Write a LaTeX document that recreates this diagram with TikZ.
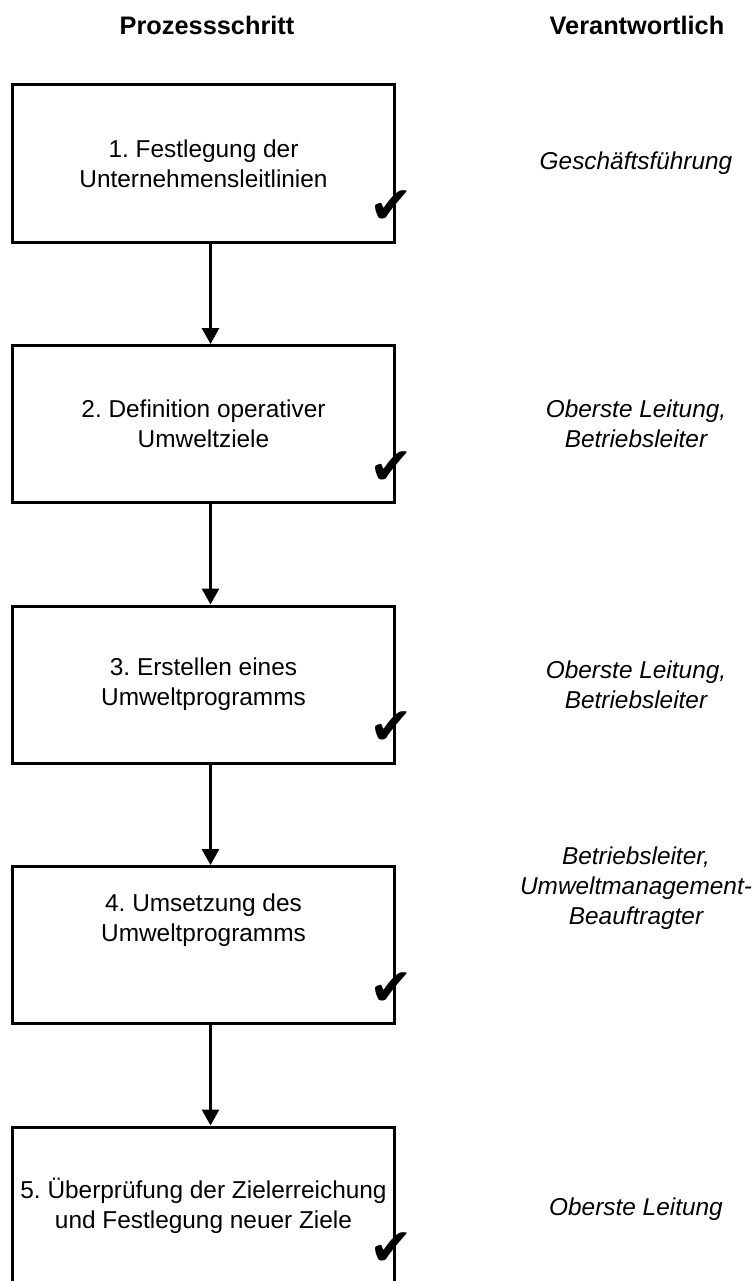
\documentclass[tikz,border=0pt]{standalone}
\usepackage{fontspec}
\setmainfont{Liberation Sans}
\newfontfamily\symfont{DejaVu Sans}
\usetikzlibrary{arrows.meta}
\usetikzlibrary{positioning}
\frenchspacing

\begin{document}
\begin{tikzpicture}
  [x=0.75pt,y=-0.75pt,
  stepbox/.style={draw=black,line width=2.25pt,minimum width=286.5pt,minimum height=117.75pt,inner sep=0pt,align=center,font=\fontsize{18.3}{22.5}\selectfont},
  steptext/.style={align=center,inner sep=0pt,font=\fontsize{18.3}{22.5}\selectfont},
  resp/.style={align=center,inner sep=0pt,font=\fontsize{18.3}{22.5}\selectfont\itshape},
  head/.style={inner sep=0pt,font=\fontsize{19}{22.5}\selectfont\bfseries},
  check/.style={inner sep=0pt,font=\symfont\fontsize{39}{39}\selectfont},
  flow/.style={line width=2.25pt,-{Triangle[width=12.75pt,length=12pt]}}]
  \useasboundingbox (0,0) rectangle (756,1281);

  \node[head] (h1) at (207,25) {Prozessschritt};
  \node[head] (h2) at (637,25) {Verantwortlich};

  \node[stepbox] (b1) at (203.5,163.5) {1. Festlegung der\\Unternehmensleitlinien};
  \node[stepbox] (b2) at (203.5,424) {2. Definition operativer\\Umweltziele};
  \node[stepbox] (b3) at (203.5,684.5) {3. Erstellen eines\\Umweltprogramms};
  \node[stepbox] (b4) at (203.5,945) {};
  \node[steptext] (t4) at (203.5,920) {4. Umsetzung des\\Umweltprogramms};
  \node[stepbox] (b5) at (203.5,1205.5) {5. Überprüfung der Zielerreichung\\und Festlegung neuer Ziele};

  \node[check] (c1) at (391,207.5) {✔};
  \node[check] (c2) at (391,468) {✔};
  \node[check] (c3) at (391,728.5) {✔};
  \node[check] (c4) at (391,989) {✔};
  \node[check] (c5) at (391,1249.5) {✔};

  \node[resp] (r1) at (636,163.5) {Geschäftsführung};
  \node[resp] (r2) at (636,424) {Oberste Leitung,\\Betriebsleiter};
  \node[resp] (r3) at (636,684.5) {Oberste Leitung,\\Betriebsleiter};
  \node[resp] (r4) at (636,888) {Betriebsleiter,\\Umweltmanagement-\\Beauftragter};
  \node[resp] (r5) at (636,1209) {Oberste Leitung};

  \draw[flow] ([xshift=5.25pt]b1.south) -- ([xshift=5.25pt]b2.north);
  \draw[flow] ([xshift=5.25pt]b2.south) -- ([xshift=5.25pt]b3.north);
  \draw[flow] ([xshift=5.25pt]b3.south) -- ([xshift=5.25pt]b4.north);
  \draw[flow] ([xshift=5.25pt]b4.south) -- ([xshift=5.25pt]b5.north);
\end{tikzpicture}
\end{document}
